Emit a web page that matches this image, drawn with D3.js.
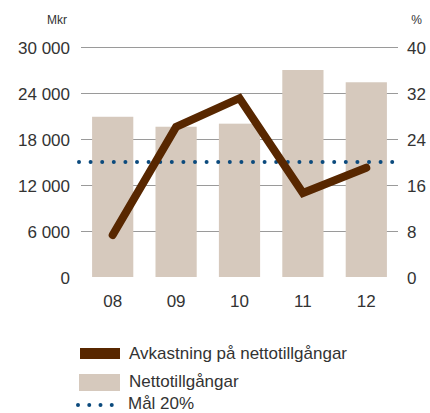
<!DOCTYPE html>
<html>
<head>
<meta charset="utf-8">
<script src="https://cdn.jsdelivr.net/npm/d3@7"></script>
<style>
  html, body { margin: 0; padding: 0; background: #fff; }
  svg text { font-family: "Liberation Sans", Arial, sans-serif; fill: #333; }
</style>
</head>
<body>
<svg id="chart" width="430" height="413"></svg>
<script>
// Years on the x axis
const years = ["08", "09", "10", "11", "12"];
// Net assets, Mkr (bars, left axis)
const netAssets = [20900, 19600, 20000, 27000, 25400];
// Return on net assets, % (line, right axis)
const returnPct = [7.3, 26.1, 31.1, 14.6, 19.0];
// Target level, %
const targetPct = 20;
// Axis ticks
const leftTicks = [0, 6000, 12000, 18000, 24000, 30000];
const rightTicks = [0, 8, 16, 24, 32, 40];
// Legend entries
const legendLabels = ["Avkastning på nettotillgångar", "Nettotillgångar", "Mål 20%"];

const colors = { line: "#582700", bar: "#d6c9bd", target: "#0b4a7d", grid: "#9a9a9a" };

const svg = d3.select("#chart");
const plot = { left: 81, right: 398, top: 47, bottom: 277 };

const x = d3.scaleBand().domain(years).range([plot.left, plot.right])
  .paddingInner(0.35).paddingOuter(0.175);
const yL = d3.scaleLinear().domain([0, 30000]).range([plot.bottom, plot.top]);
const yR = d3.scaleLinear().domain([0, 40]).range([plot.bottom, plot.top]);

const fmt = d => d3.format(",")(d).replace(/,/g, " ");

// Horizontal grid lines
svg.append("g").selectAll("line").data(leftTicks.slice(1)).join("line")
  .attr("x1", plot.left).attr("x2", plot.right)
  .attr("y1", d => yL(d)).attr("y2", d => yL(d))
  .attr("stroke", colors.grid).attr("stroke-width", 1).attr("shape-rendering", "crispEdges");

// Bars
svg.append("g").selectAll("rect").data(years).join("rect")
  .attr("x", d => x(d)).attr("width", x.bandwidth())
  .attr("y", (d, i) => yL(netAssets[i]))
  .attr("height", (d, i) => yL(0) - yL(netAssets[i]))
  .attr("fill", colors.bar);

// Left axis
const leftAxis = svg.append("g").attr("transform", `translate(${plot.left},0)`)
  .call(d3.axisLeft(yL).tickValues(leftTicks).tickFormat(fmt).tickSize(0).tickPadding(11));
leftAxis.select(".domain").remove();
leftAxis.selectAll("text").attr("font-size", 17).attr("dy", "0.36em");

// Right axis
const rightAxis = svg.append("g").attr("transform", `translate(${plot.right},0)`)
  .call(d3.axisRight(yR).tickValues(rightTicks).tickSize(0).tickPadding(9));
rightAxis.select(".domain").remove();
rightAxis.selectAll("text").attr("font-size", 17).attr("dy", "0.36em");

// Bottom axis labels
const bottomAxis = svg.append("g").attr("transform", `translate(0,${plot.bottom})`)
  .call(d3.axisBottom(x).tickSize(0).tickPadding(18));
bottomAxis.select(".domain").remove();
bottomAxis.selectAll("text").attr("font-size", 17);

// Unit labels
svg.append("text").attr("x", 67).attr("y", 24).attr("text-anchor", "end")
  .attr("font-size", 12).text("Mkr");
svg.append("text").attr("x", 422).attr("y", 24).attr("text-anchor", "end")
  .attr("font-size", 12).text("%");

// Target dotted line
svg.append("line")
  .attr("x1", plot.left - 2).attr("x2", plot.right + 2)
  .attr("y1", yR(targetPct)).attr("y2", yR(targetPct))
  .attr("stroke", colors.target).attr("stroke-width", 4)
  .attr("stroke-linecap", "round").attr("stroke-dasharray", "0 11.6");

// Return line
const line = d3.line().x((d, i) => x(years[i]) + x.bandwidth() / 2).y(d => yR(d));
svg.append("path").datum(returnPct)
  .attr("d", line).attr("fill", "none")
  .attr("stroke", colors.line).attr("stroke-width", 8)
  .attr("stroke-linecap", "round").attr("stroke-linejoin", "miter");

// Legend
const lg = svg.append("g");
lg.append("rect").attr("x", 80).attr("y", 348).attr("width", 40).attr("height", 11)
  .attr("fill", colors.line);
lg.append("rect").attr("x", 79).attr("y", 374).attr("width", 41).attr("height", 17)
  .attr("fill", colors.bar);
lg.append("line").attr("x1", 78).attr("x2", 123).attr("y1", 405).attr("y2", 405)
  .attr("stroke", colors.target).attr("stroke-width", 4)
  .attr("stroke-linecap", "round").attr("stroke-dasharray", "0 11.25");
lg.selectAll("text").data(legendLabels).join("text")
  .attr("x", (d, i) => i === 2 ? 128 : 129)
  .attr("y", (d, i) => [353, 381, 403][i])
  .attr("dy", "0.36em").attr("font-size", 17).text(d => d);
</script>
</body>
</html>
